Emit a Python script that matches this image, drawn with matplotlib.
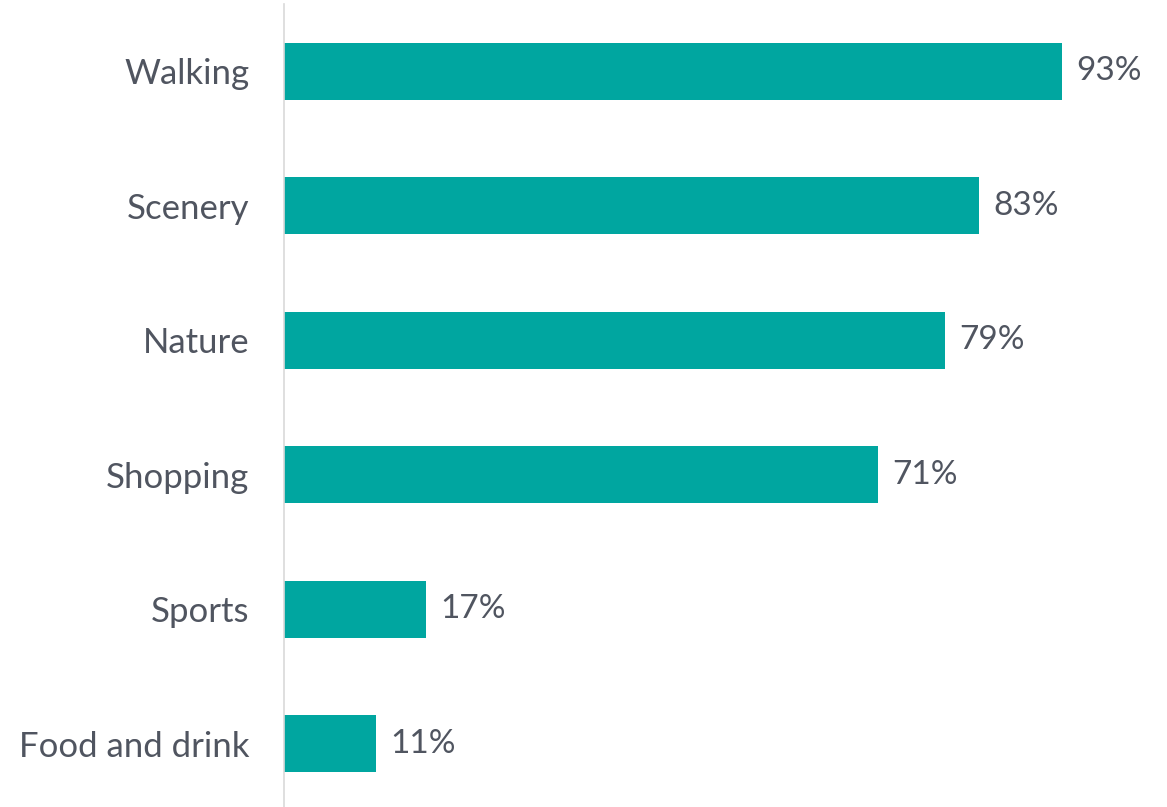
import matplotlib.pyplot as plt

categories = ['Walking', 'Scenery', 'Nature', 'Shopping', 'Sports', 'Food and drink']
values = [93, 83, 79, 71, 17, 11]
value_labels = ['93%', '83%', '79%', '71%', '17%', '11%']

bar_color = '#00A6A0'
text_color = '#505560'

plt.rcParams['font.family'] = ['Lato', 'DejaVu Sans']

fig = plt.figure(figsize=(11.67, 8.07), dpi=100)
ax = fig.add_axes([284 / 1167, -4 / 807, 1 - 284 / 1167, 1])

y = list(range(len(categories)))
ax.barh(y, values, height=0.425, color=bar_color)

for yi, v, lab in zip(y, values, value_labels):
    ax.text(v + 1.7, yi, lab, va='center', ha='left', fontsize=24, color=text_color)

ax.set_xlim(0, 105.5)
ax.set_ylim(len(categories) - 0.5, -0.5)
ax.set_yticks(y)
ax.set_yticklabels(categories, fontsize=25, color=text_color)
ax.tick_params(axis='y', length=0, pad=25)
ax.set_xticks([])

for side in ['top', 'right', 'bottom']:
    ax.spines[side].set_visible(False)
ax.spines['left'].set_color('#d9d9d9')
ax.spines['left'].set_linewidth(1.2)

fig.savefig('out.png', dpi=100)
